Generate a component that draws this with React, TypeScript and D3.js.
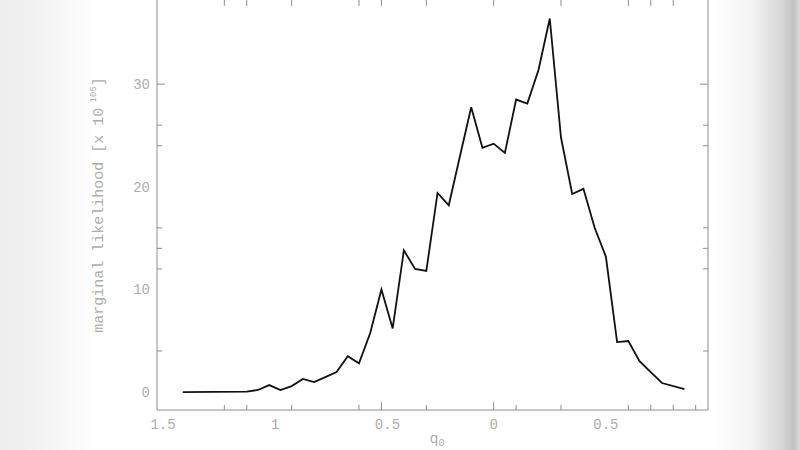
import React from "react";
import * as d3 from "d3";

// ---- data ----
const q0Values = [
  -1.385, -1.1, -1.05, -1.0, -0.95, -0.9, -0.85, -0.8, -0.75, -0.7, -0.65, -0.6,
  -0.55, -0.5, -0.45, -0.4, -0.35, -0.3, -0.25, -0.2, -0.15, -0.1, -0.05, 0.0,
  0.05, 0.1, 0.15, 0.2, 0.25, 0.3, 0.35, 0.4, 0.45, 0.5, 0.55, 0.6, 0.65, 0.7,
  0.75, 0.85,
];
const likelihoodValues = [
  0.0, 0.05, 0.2, 0.68, 0.19, 0.58, 1.27, 0.97, 1.46, 1.95, 3.5, 2.8,
  5.75, 10.0, 6.2, 13.8, 12.0, 11.8, 19.4, 18.2, 23.0, 27.75, 23.8, 24.2,
  23.3, 28.5, 28.1, 31.4, 36.4, 24.8, 19.3, 19.8, 16.0, 13.2, 4.87, 4.97,
  3.0, 1.95, 0.88, 0.29,
];
const xTickLabelValues = [-1.5, -1.0, -0.5, 0, 0.5];
const xTickLabelTexts = ["1.5", "1", "0.5", "0", "0.5"];
const xMinorTicks = [-1.2, -1.1, -0.9, -0.6, -0.3, 0.1, 0.3, 0.6, 0.7, 0.8, 0.9];
const xMajorTicks = [-0.5, 0];
const xTopTicks = [-1.2, -1.1, -0.9, -0.6, -0.5, -0.3, 0, 0.3, 0.6, 0.7, 0.8];
const yTickLabelValues = [0, 10, 20, 30];
const yMinorTicks = [4, 12, 14, 16, 24, 26];
const yMajorTicks = [30];
const xDomain = [-1.5, 0.955];
const yDomain = [-1.75, 38.2];

export default function App() {
  const W = 800;
  const H = 450;
  const left = 157;
  const right = 708;
  const top = 0;
  const bottom = 410;

  const x = d3.scaleLinear().domain(xDomain).range([left, right]);
  const y = d3.scaleLinear().domain(yDomain).range([bottom, top]);

  const pts = q0Values.map((v, i) => [v, likelihoodValues[i]] as [number, number]);
  const line = d3
    .line<[number, number]>()
    .x((d) => x(d[0]))
    .y((d) => y(d[1]));

  const axisColor = "#8e8e8e";
  const textColor = "#adadad";
  const font = "'Liberation Mono', 'DejaVu Sans Mono', monospace";

  return (
    <svg
      width={W}
      height={H}
      style={{ position: "absolute", left: 0, top: 0, display: "block" }}
    >
      <defs>
        <linearGradient id="rightEdge" x1="0" x2="1" y1="0" y2="0">
          <stop offset="0%" stopColor="#ffffff" />
          <stop offset="45%" stopColor="#f3f3f3" />
          <stop offset="80%" stopColor="#d6d6d6" />
          <stop offset="93%" stopColor="#c2c2c2" />
          <stop offset="100%" stopColor="#dadada" />
        </linearGradient>
        <linearGradient id="leftEdge" x1="0" x2="1" y1="0" y2="0">
          <stop offset="0%" stopColor="#eeeeee" />
          <stop offset="35%" stopColor="#f1f1f1" />
          <stop offset="100%" stopColor="#ffffff" />
        </linearGradient>
      </defs>
      <rect x={0} y={0} width={W} height={H} fill="#ffffff" />
      <rect x={0} y={0} width={95} height={H} fill="url(#leftEdge)" />
      <rect x={712} y={0} width={88} height={H} fill="url(#rightEdge)" />

      {/* frame */}
      <g stroke={axisColor} strokeWidth={1} fill="none">
        <line x1={left} x2={left} y1={top} y2={bottom} />
        <line x1={right} x2={right} y1={top} y2={bottom} />
        <line x1={left} x2={right} y1={bottom} y2={bottom} />
        {/* bottom ticks */}
        {xMinorTicks.map((t) => (
          <line key={"bm" + t} x1={x(t)} x2={x(t)} y1={bottom} y2={bottom - 5} />
        ))}
        {xMajorTicks.map((t) => (
          <line key={"bM" + t} x1={x(t)} x2={x(t)} y1={bottom} y2={bottom - 8} />
        ))}
        {/* top ticks */}
        {xTopTicks.map((t) => (
          <line key={"tm" + t} x1={x(t)} x2={x(t)} y1={top} y2={top + 6} />
        ))}
        {/* left / right ticks */}
        {yMinorTicks.map((t) => (
          <g key={"ym" + t}>
            <line x1={left} x2={left + 5} y1={y(t)} y2={y(t)} />
            <line x1={right} x2={right - 5} y1={y(t)} y2={y(t)} />
          </g>
        ))}
        {yMajorTicks.map((t) => (
          <g key={"yM" + t}>
            <line x1={left} x2={left + 8} y1={y(t)} y2={y(t)} />
            <line x1={right} x2={right - 8} y1={y(t)} y2={y(t)} />
          </g>
        ))}
      </g>

      {/* tick labels */}
      <g fill={textColor} fontFamily={font} fontSize={14}>
        {xTickLabelValues.map((v, i) => (
          <text
            key={"xl" + v}
            x={x(v) + (v < 0 ? 6 : 0)}
            y={bottom + 19}
            textAnchor="middle"
          >
            {xTickLabelTexts[i]}
          </text>
        ))}
        {yTickLabelValues.map((v) => (
          <text key={"yl" + v} x={left - 7} y={y(v) + 5} textAnchor="end">
            {String(v)}
          </text>
        ))}
      </g>

      {/* axis titles */}
      <text
        x={437}
        y={443}
        fill={textColor}
        fontFamily={font}
        fontSize={15}
        textAnchor="middle"
      >
        q
        <tspan fontSize={10} dy={3}>
          0
        </tspan>
      </text>
      <text
        transform={`translate(103, 205) rotate(-90)`}
        fill={textColor}
        fontFamily={font}
        fontSize={15}
        textAnchor="middle"
      >
        marginal likelihood [x 10
        <tspan fontSize={9} dy={-7}>
          {" 105"}
        </tspan>
        <tspan dy={7}>]</tspan>
      </text>

      {/* data curve */}
      <path
        d={line(pts) || ""}
        fill="none"
        stroke="#111111"
        strokeWidth={1.8}
        strokeLinejoin="miter"
      />
    </svg>
  );
}
